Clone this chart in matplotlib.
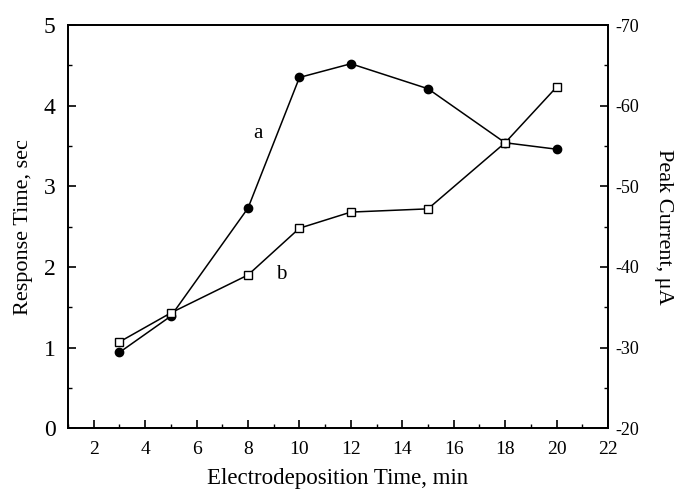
import matplotlib
matplotlib.use("Agg")
import matplotlib.pyplot as plt
from matplotlib.ticker import MultipleLocator

plt.rcParams['font.family'] = ['Liberation Serif', 'DejaVu Serif']

# electrodeposition time, min
time_min = [3, 5, 8, 10, 12, 15, 18, 20]
# curve a: response time, sec (left axis)
response_sec = [0.94, 1.39, 2.73, 4.35, 4.52, 4.21, 3.54, 3.46]
# curve b: peak current, uA (right axis)
peak_current = [-30.7, -34.3, -39.0, -44.8, -46.8, -47.2, -55.4, -62.3]

fig = plt.figure(figsize=(6.74, 4.91), dpi=100)
ax = fig.add_axes([0.101, 0.128, 0.801, 0.821])
ax2 = ax.twinx()

ax.plot(time_min, response_sec, '-o', color='black', lw=1.1,
        markersize=6, markerfacecolor='black', zorder=3)
ax2.plot(time_min, peak_current, '-s', color='black', lw=1.1,
         markersize=6, markerfacecolor='white', zorder=3)

ax.text(8.2, 3.6, 'a', fontsize=15)
ax.text(9.1, 1.85, 'b', fontsize=15)

ax.set_xlim(1, 22)
ax.set_ylim(0, 5)
ax2.set_ylim(-20, -70)

ax.xaxis.set_major_locator(MultipleLocator(2))
ax.xaxis.set_minor_locator(MultipleLocator(1))
ax.yaxis.set_major_locator(MultipleLocator(1))
ax.yaxis.set_minor_locator(MultipleLocator(0.5))
ax2.yaxis.set_major_locator(MultipleLocator(10))
ax2.yaxis.set_minor_locator(MultipleLocator(5))

ax.tick_params(axis='both', which='both', direction='in', top=False)
ax.tick_params(axis='both', which='major', length=6, width=1.2)
ax.tick_params(axis='both', which='minor', length=3, width=1.0)
ax.tick_params(axis='y', labelsize=17, pad=9)
ax.tick_params(axis='x', labelsize=14, pad=9)
ax2.tick_params(axis='y', which='both', direction='in')
ax2.tick_params(axis='y', which='major', length=6, width=1.2, labelsize=13, pad=5)
ax2.tick_params(axis='y', which='minor', length=3, width=1.0)

ax2.set_yticklabels(['%d' % v for v in ax2.get_yticks()])

for sp in list(ax.spines.values()) + list(ax2.spines.values()):
    sp.set_linewidth(1.3)

ax.set_xlabel('Electrodeposition Time, min', fontsize=16.5)
ax.set_ylabel('Response Time, sec', fontsize=16)
ax2.set_ylabel('Peak Current, \u03bcA', fontsize=16, rotation=270, va='center')

ax.xaxis.set_label_coords(0.5, -0.10)
ax.yaxis.set_label_coords(-0.065, 0.5)
ax2.yaxis.set_label_coords(1.102, 0.5)

fig.savefig('out.png', dpi=100)
